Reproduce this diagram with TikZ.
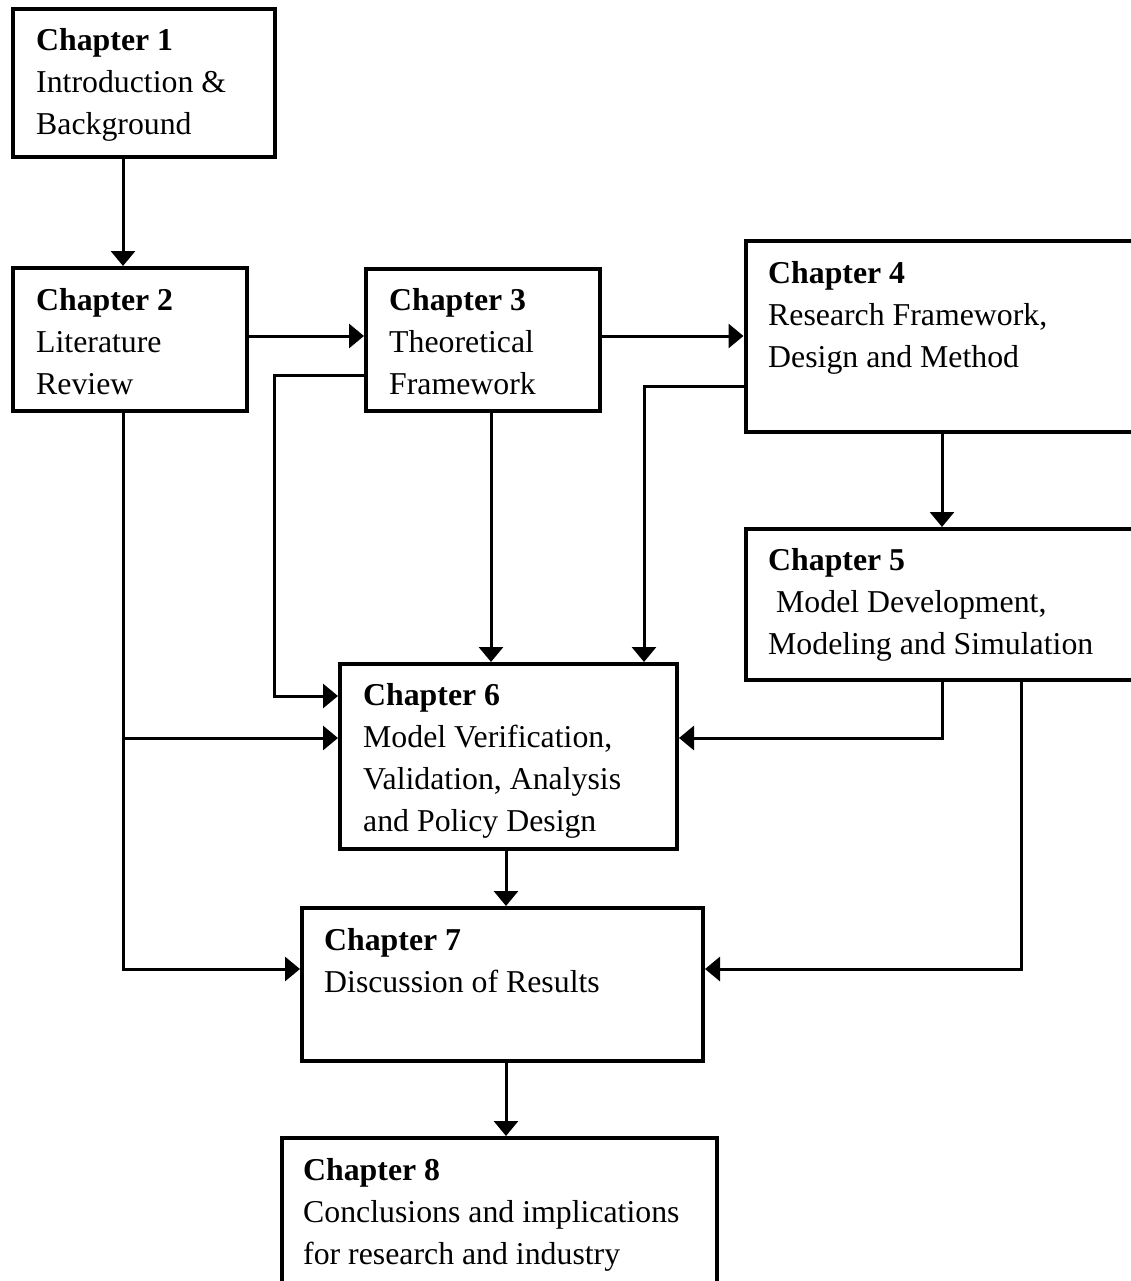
\documentclass[tikz,border=0pt]{standalone}
\usepackage{fontspec}
\setmainfont{Liberation Serif}
\usetikzlibrary{arrows.meta}
\begin{document}
\begin{tikzpicture}[x=1pt,y=-1pt,
  chapbox/.style={draw, line width=4pt, minimum width=#1, inner sep=0pt},
  chaptext/.style={anchor=base west, inner sep=0pt, align=left,
    font=\fontsize{31.8}{42}\selectfont},
  link/.style={line width=3pt},
  arr/.style={line width=3pt, -{Triangle[length=15pt,width=24pt]}}]
\useasboundingbox (0,0) rectangle (1131,1281);
\clip (0,0) rectangle (1131,1281);
\fill[white] (0,0) rectangle (1131,1281);

% chapter boxes
\node[chapbox=262pt,   minimum height=148pt] (b1) at (143.5,83) {};
\node[chapbox=234.5pt, minimum height=143pt] (b2) at (129.75,339.5) {};
\node[chapbox=234pt,   minimum height=142pt] (b3) at (483,340) {};
\node[chapbox=400pt,   minimum height=191pt] (b4) at (945.5,336.5) {};
\node[chapbox=400pt,   minimum height=151pt] (b5) at (945.5,604.5) {};
\node[chapbox=337pt,   minimum height=185pt] (b6) at (508.5,756.5) {};
\node[chapbox=401pt,   minimum height=153pt] (b7) at (502.5,984.5) {};
\node[chapbox=435pt,   minimum height=162pt] (b8) at (499.5,1219) {};

% chapter titles (anchored at the baseline of their last line)
\node[chaptext] (t1) at (36,135)   {\textbf{Chapter 1}\\Introduction \&\\Background};
\node[chaptext] (t2) at (36,394)   {\textbf{Chapter 2}\\Literature\\Review};
\node[chaptext] (t3) at (389,394)  {\textbf{Chapter 3}\\Theoretical\\Framework};
\node[chaptext] (t4) at (768,367)  {\textbf{Chapter 4}\\Research Framework,\\Design and Method};
\node[chaptext] (t5) at (768,654)  {\textbf{Chapter 5}\\\hspace*{8pt}Model Development,\\Modeling and Simulation};
\node[chaptext] (t6) at (363,831)  {\textbf{Chapter 6}\\Model Verification,\\Validation, Analysis\\and Policy Design};
\node[chaptext] (t7) at (324,992)  {\textbf{Chapter 7}\\Discussion of Results};
\node[chaptext] (t8) at (303,1264) {\textbf{Chapter 8}\\Conclusions and implications\\for research and industry};

% routing columns and rows
\coordinate (colA) at (123,0);
\coordinate (colB) at (274,0);
\coordinate (colC) at (491,0);
\coordinate (colD) at (644,0);
\coordinate (colE) at (942,0);
\coordinate (colF) at (1021,0);
\coordinate (colG) at (506,0);
\coordinate (rowA) at (0,336);
\coordinate (rowB) at (0,375);
\coordinate (rowC) at (0,386);
\coordinate (rowD) at (0,696);
\coordinate (rowE) at (0,738);
\coordinate (rowF) at (0,969);

% straight links
\draw[arr] (b1.south -| colA) -- (b2.north -| colA);
\draw[arr] (b2.east |- rowA) -- (b3.west |- rowA);
\draw[arr] (b3.east |- rowA) -- (b4.west |- rowA);
\draw[arr] (b3.south -| colC) -- (b6.north -| colC);
\draw[arr] (b4.south -| colE) -- (b5.north -| colE);
\draw[arr] (b6.south -| colG) -- (b7.north -| colG);
\draw[arr] (b7.south -| colG) -- (b8.north -| colG);

% elbow links
\draw[arr] (b3.west |- rowB) -| (colB |- rowD) -- (b6.west |- rowD);
\draw[arr] (b4.west |- rowC) -| (b6.north -| colD);
\draw[arr] (b2.south -| colA) |- (b7.west |- rowF);
\draw[arr] (colA |- rowE) -- (b6.west |- rowE);
\draw[arr] (b5.south -| colE) |- (b6.east |- rowE);
\draw[arr] (b5.south -| colF) |- (b7.east |- rowF);
\end{tikzpicture}
\end{document}
